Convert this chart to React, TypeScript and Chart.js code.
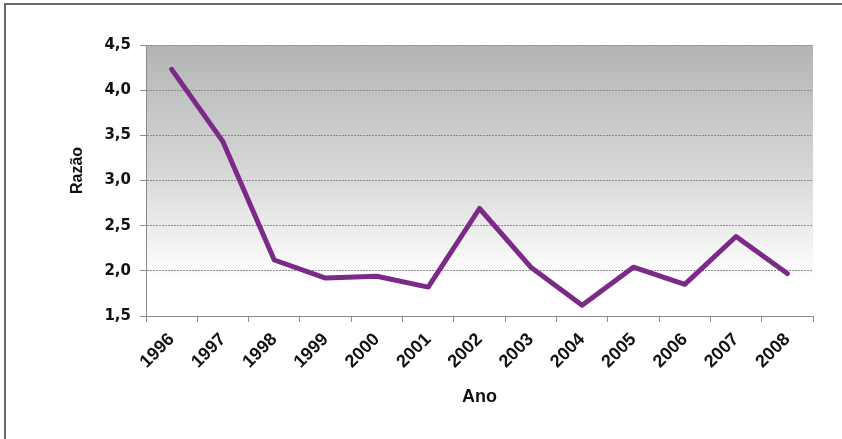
import React, { useEffect, useRef } from "react";
import { Chart, registerables } from "chart.js";

Chart.register(...registerables);

const years = ["1996", "1997", "1998", "1999", "2000", "2001", "2002", "2003", "2004", "2005", "2006", "2007", "2008"];
const razao = [4.23, 3.43, 2.12, 1.92, 1.94, 1.82, 2.69, 2.04, 1.62, 2.04, 1.85, 2.38, 1.97];
const yMin = 1.5;
const yMax = 4.5;
const yStep = 0.5;
const xTitle = "Ano";
const yTitle = "Razão";

const plotBg = {
  id: "plotBg",
  beforeDraw(chart: any) {
    const { ctx, chartArea: a } = chart;
    const g = ctx.createLinearGradient(0, a.top, 0, a.bottom);
    g.addColorStop(0, "#b3b5b5");
    g.addColorStop(0.45, "#d5d5d5");
    g.addColorStop(0.86, "#ffffff");
    g.addColorStop(1, "#ffffff");
    ctx.save();
    ctx.fillStyle = g;
    ctx.fillRect(a.left, a.top, a.right - a.left, a.bottom - a.top);
    ctx.restore();
  },
};

const yTitlePlugin = {
  id: "yTitle",
  afterDraw(chart: any) {
    const { ctx, chartArea: a } = chart;
    ctx.save();
    ctx.translate(a.left - 68, (a.top + a.bottom) / 2 - 10);
    ctx.rotate(-Math.PI / 2);
    ctx.fillStyle = "#111111";
    ctx.font = "bold 16px 'Liberation Sans', Arial, sans-serif";
    ctx.textAlign = "center";
    ctx.textBaseline = "middle";
    ctx.fillText(yTitle, 0, 0);
    ctx.restore();
  },
};

export default function App() {
  const ref = useRef<HTMLCanvasElement | null>(null);

  useEffect(() => {
    if (!ref.current) return;
    const chart = new Chart(ref.current, {
      type: "line",
      data: {
        labels: years,
        datasets: [
          {
            data: razao,
            borderColor: "#7b2a88",
            borderWidth: 5,
            pointRadius: 0,
            tension: 0,
            fill: false,
            borderJoinStyle: "round",
            borderCapStyle: "round",
          },
        ],
      },
      options: {
        animation: false,
        responsive: false,
        maintainAspectRatio: false,
        layout: { padding: { left: 60, top: 45, right: 29, bottom: 31 } },
        plugins: { legend: { display: false }, tooltip: { enabled: false } },
        scales: {
          x: {
            type: "category",
            offset: true,
            afterFit(scale: any) {
              scale.height = 92;
            },
            grid: {
              offset: true,
              drawOnChartArea: false,
              drawTicks: true,
              tickLength: 6,
              tickColor: "#8a8a8a",
              tickWidth: 1,
            },
            border: { display: true, color: "#8a8a8a", width: 1 },
            ticks: {
              autoSkip: false,
              minRotation: 45,
              maxRotation: 45,
              padding: 7,
              color: "#111111",
              font: { family: "'Liberation Sans', Arial, sans-serif", size: 18, weight: "bold" },
            },
            title: {
              display: true,
              text: xTitle,
              color: "#111111",
              padding: 0,
              font: { family: "'Liberation Sans', Arial, sans-serif", size: 18, weight: "bold" },
            },
          },
          y: {
            min: yMin,
            max: yMax,
            afterFit(scale: any) {
              scale.width = 86;
            },
            grid: {
              color: "#8c8c8c",
              lineWidth: 1,
              drawTicks: true,
              tickLength: 6,
              tickColor: "#8a8a8a",
              tickBorderDash: [],
            },
            border: { display: true, color: "#8a8a8a", width: 1, dash: [2, 1] },
            ticks: {
              stepSize: yStep,
              padding: 9,
              color: "#111111",
              font: { family: "'DejaVu Sans', sans-serif", size: 15, weight: "bold" },
              callback: (v: any) => Number(v).toFixed(1).replace(".", ","),
            },
          },
        },
      },
      plugins: [plotBg, yTitlePlugin],
    });
    return () => chart.destroy();
  }, []);

  return (
    <div style={{ position: "fixed", left: 0, top: 0, width: 842, height: 439, background: "#ffffff", overflow: "hidden" }}>
      <canvas ref={ref} width={842} height={439} style={{ position: "absolute", left: 0, top: 0, width: 842, height: 439 }} />
      <div
        style={{
          position: "absolute",
          left: 4,
          top: 3,
          width: 900,
          height: 500,
          borderLeft: "2px solid #6a6a6a",
          borderTop: "2px solid #6a6a6a",
          boxSizing: "border-box",
          pointerEvents: "none",
        }}
      />
    </div>
  );
}
